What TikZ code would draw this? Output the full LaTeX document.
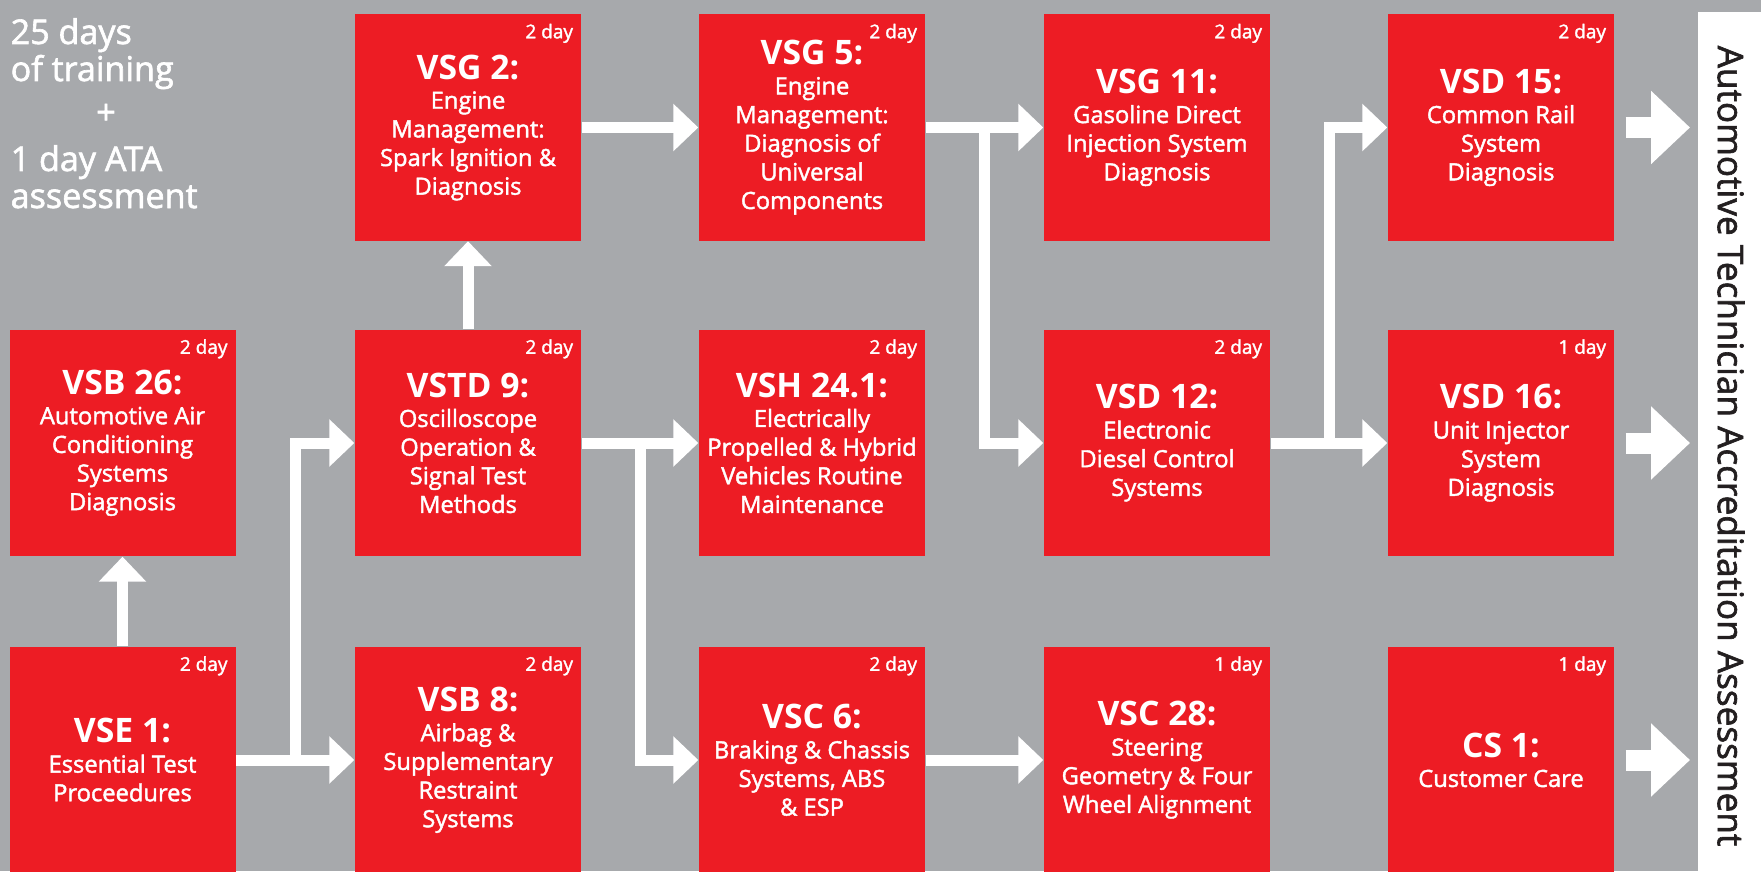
\documentclass[tikz,border=0pt]{standalone}
\usepackage{fontspec}
\setmainfont{Open Sans}
\newfontfamily\medfont{Open Sans}[FakeBold=1.8]
\usetikzlibrary{arrows.meta,calc,positioning}

\definecolor{bggray}{RGB}{167,169,172}
\definecolor{modred}{RGB}{237,28,36}
\definecolor{darktxt}{RGB}{35,31,32}
\newcommand{\ttlfont}{\fontsize{9.6}{11}\selectfont\rmfamily\bfseries}

\tikzset{
  course/.style={fill=modred, minimum width=2.26cm, minimum height=2.26cm,
    inner sep=0pt, text=white, align=center,
    font=\medfont\fontsize{6.75}{8.15}\selectfont},
  days/.style={text=white, inner sep=0pt, anchor=base east,
    font=\medfont\fontsize{5.4}{6}\selectfont},
  intro/.style={text=white, inner sep=0pt, anchor=base west,
    font=\medfont\fontsize{9.7}{11}\selectfont},
  flow/.style={draw=white, line width=0.11cm,
    -{Triangle[width=0.46cm,length=0.25cm]}},
  bigflow/.style={draw=white, line width=0.21cm,
    -{Triangle[width=0.71cm,length=0.39cm]}}
}

\begin{document}
\begin{tikzpicture}
    \useasboundingbox (0,0) rectangle (17.61,8.71);
    \fill[bggray] (0,0) rectangle (17.61,8.71);

    % white band (right)
    \fill[white] (16.98,0) rectangle (17.61,8.59);
    \node[rotate=-90, text=darktxt, inner sep=0pt, font=\medfont\fontsize{10}{12}\selectfont] (ata) at (17.31,4.25)
        {Automotive Technician Accreditation Assessment};
    \coordinate (atatip) at (16.90,0);

    % intro text (top left)
    \node[intro] (intro1) at (0.10,8.27) {25 days};
    \node[intro] (intro2) at (0.10,7.90) {of training};
    \node[intro, anchor=center] (plus) at (1.06,7.57) {+};
    \node[intro] (intro3) at (0.10,7.00) {1 day ATA};
    \node[intro] (intro4) at (0.10,6.63) {assessment};

    % top row
    \node[course] (vsg2) at (4.68,7.435)
        {{\ttlfont VSG 2:}\\[0.3pt]Engine\\Management:\\Spark Ignition \&\\Diagnosis};
    \node[course] (vsg5) at (8.12,7.435)
        {{\ttlfont VSG 5:}\\[0.3pt]Engine\\Management:\\Diagnosis of\\Universal\\Components};
    \node[course] (vsg11) at (11.57,7.435)
        {{\ttlfont VSG 11:}\\[0.3pt]Gasoline Direct\\Injection System\\Diagnosis};
    \node[course] (vsd15) at (15.01,7.435)
        {{\ttlfont VSD 15:}\\[0.3pt]Common Rail\\System\\Diagnosis};

    % middle row
    \node[course] (vsb26) at (1.225,4.28)
        {{\ttlfont VSB 26:}\\[0.3pt]Automotive Air\\Conditioning\\Systems\\Diagnosis};
    \node[course] (vstd9) at (4.68,4.28)
        {{\ttlfont VSTD 9:}\\[0.3pt]Oscilloscope\\Operation \&\\Signal Test\\Methods};
    \node[course] (vsh241) at (8.12,4.28)
        {{\ttlfont VSH 24.1:}\\[0.3pt]Electrically\\Propelled \& Hybrid\\Vehicles Routine\\Maintenance};
    \node[course] (vsd12) at (11.57,4.28)
        {{\ttlfont VSD 12:}\\[0.3pt]Electronic\\Diesel Control\\Systems};
    \node[course] (vsd16) at (15.01,4.28)
        {{\ttlfont VSD 16:}\\[0.3pt]Unit Injector\\System\\Diagnosis};

    % bottom row
    \node[course] (vse1) at (1.225,1.11)
        {{\ttlfont VSE 1:}\\[0.3pt]Essential Test\\Proceedures};
    \node[course] (vsb8) at (4.68,1.11)
        {{\ttlfont VSB 8:}\\[0.3pt]Airbag \&\\Supplementary\\Restraint\\Systems};
    \node[course] (vsc6) at (8.12,1.11)
        {{\ttlfont VSC 6:}\\[0.3pt]Braking \& Chassis\\Systems, ABS\\\& ESP};
    \node[course] (vsc28) at (11.57,1.11)
        {{\ttlfont VSC 28:}\\[0.3pt]Steering\\Geometry \& Four\\Wheel Alignment};
    \node[course] (cs1) at (15.01,1.11)
        {{\ttlfont CS 1:}\\[0.3pt]Customer Care};

    % days
    \foreach \crs/\len in {vsg2/2,vsg5/2,vsg11/2,vsd15/2,vsb26/2,vstd9/2,vsh241/2,
        vsd12/2,vsd16/1,vse1/2,vsb8/2,vsc6/2,vsc28/1,cs1/1}
        \node[days] (\crs-days) at ([xshift=-0.08cm,yshift=-0.245cm]\crs.north east) {\len\ day};

    % straight arrows
    \draw[flow] (vsg2) -- (vsg5);
    \draw[flow] (vsg5) -- (vsg11);
    \draw[flow] (vstd9) -- (vsh241);
    \draw[flow] (vsd12) -- (vsd16);
    \draw[flow] (vse1) -- (vsb8);
    \draw[flow] (vsc6) -- (vsc28);
    \draw[flow] (vse1) -- (vsb26);
    \draw[flow] (vstd9) -- (vsg2);

    % branches
    \coordinate (j1) at ($(vse1.east)!.5!(vsb8.west)$);
    \coordinate (j2) at ($(vstd9.east)!.5!(vsh241.west)$);
    \coordinate (j3) at ($(vsg5.east)!.5!(vsg11.west)$);
    \coordinate (j4) at ($(vsd12.east)!.5!(vsd16.west)$);
    \draw[flow] (j1) |- (vstd9);
    \draw[flow] (j2) |- (vsc6);
    \draw[flow] (j3) |- (vsd12);
    \draw[flow] (j4) |- (vsd15);

    % to assessment
    \draw[bigflow] ([xshift=0.11cm]vsd15.east) -- (vsd15.east -| atatip);
    \draw[bigflow] ([xshift=0.11cm]vsd16.east) -- (vsd16.east -| atatip);
    \draw[bigflow] ([xshift=0.11cm]cs1.east) -- (cs1.east -| atatip);
\end{tikzpicture}
\end{document}
